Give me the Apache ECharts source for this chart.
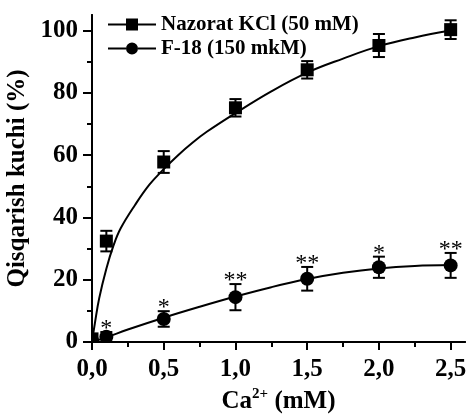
<!DOCTYPE html>
<html>
<head>
<meta charset="utf-8">
<script src="https://cdn.jsdelivr.net/npm/echarts@6/dist/echarts.min.js"></script>
<style>
html,body{margin:0;padding:0;background:#fff;}
#chart{width:469px;height:414px;}
</style>
</head>
<body>
<div id="chart"></div>
<script>
// ---- data ----
const xValues = [0, 0.1, 0.5, 1.0, 1.5, 2.0, 2.5];
const nazorat = [1, 32.4, 57.8, 75.2, 87.4, 95.2, 100.3];
const nazoratErr = [0, 3.3, 3.5, 2.8, 2.8, 3.7, 3.0];
const f18 = [0.5, 1.7, 7.4, 14.4, 20.3, 24.0, 24.6];
const f18Err = [0, 1.5, 2.5, 4.2, 3.8, 3.4, 4.0];
const f18Sig = ['', '*', '*', '**', '**', '*', '**'];

const nazCurveX = [0, 0.02, 0.05, 0.1, 0.15, 0.2, 0.3, 0.4, 0.5, 0.6, 0.7, 0.8, 1.0, 1.25, 1.5, 1.75, 2.0, 2.25, 2.5];
const nazCurveY = [0, 6, 14, 23.5, 31, 36.5, 44, 50.5, 55.5, 60, 64, 67.5, 73.5, 80.5, 86.5, 91, 95, 97.8, 100];
const f18CurveX = [0, 0.1, 0.25, 0.5, 0.75, 1.0, 1.25, 1.5, 1.75, 2.0, 2.25, 2.5];
const f18CurveY = [0, 1.5, 4, 7.8, 11.3, 14.6, 17.6, 20.2, 22.2, 23.6, 24.4, 24.7];

const xTickValues = [0, 0.5, 1.0, 1.5, 2.0, 2.5];
const xTickLabels = ['0,0', '0,5', '1,0', '1,5', '2,0', '2,5'];
const xMinorTicks = [0.25, 0.75, 1.25, 1.75, 2.25];
const yTickValues = [0, 20, 40, 60, 80, 100];
const yTickLabels = ['0', '20', '40', '60', '80', '100'];
const yMinorTicks = [10, 30, 50, 70, 90];

const nameNaz = 'Nazorat KCl (50 mM)';
const nameF18 = 'F-18 (150 mkM)';

// ---- chart ----
const FONT = '"Liberation Serif", "Times New Roman", serif';
const chart = echarts.init(document.getElementById('chart'));

function errSeries(name, vals, errs, shape, sigs) {
  return {
    type: 'custom',
    name: name,
    clip: true,
    z: 5,
    itemStyle: {color: '#000'},
    data: xValues.map((x, i) => [x, vals[i], errs[i]]),
    renderItem: function (params, api) {
      const x = api.value(0), y = api.value(1), e = api.value(2);
      const i = params.dataIndex;
      const c = api.coord([x, y]);
      const t = api.coord([x, y + e]);
      const b = api.coord([x, y - e]);
      const children = [];
      const ls = {stroke: '#000', lineWidth: 2};
      if (e > 0) {
        children.push({type: 'line', shape: {x1: c[0], y1: t[1], x2: c[0], y2: b[1]}, style: ls});
        children.push({type: 'line', shape: {x1: c[0] - 6, y1: t[1], x2: c[0] + 6, y2: t[1]}, style: ls});
        children.push({type: 'line', shape: {x1: c[0] - 6, y1: b[1], x2: c[0] + 6, y2: b[1]}, style: ls});
      }
      if (shape === 'rect') {
        children.push({type: 'rect', shape: {x: c[0] - 6.5, y: c[1] - 6.5, width: 13, height: 13}, style: {fill: '#000'}});
      } else {
        children.push({type: 'circle', shape: {cx: c[0], cy: c[1], r: 7}, style: {fill: '#000'}});
      }
      if (sigs && sigs[i]) {
        children.push({type: 'text', style: {text: sigs[i], x: c[0], y: t[1] + 9, align: 'center', verticalAlign: 'bottom',
          font: '24px ' + FONT, fill: '#000'}});
      }
      return {type: 'group', children: children};
    }
  };
}

const axisLineStyle = {color: '#000', width: 2};

const option = {
  animation: false,
  backgroundColor: '#fff',
  grid: {left: 92, right: 4, top: 15, bottom: 72, containLabel: false, outerBoundsMode: 'none'},
  legend: {
    orient: 'vertical', left: 103, top: 9, itemGap: 3, itemWidth: 48, itemHeight: 12,
    textStyle: {fontFamily: FONT, fontWeight: 'bold', fontSize: 21, color: '#000'},
    data: [
      {name: nameNaz, icon: 'path://M0,5H18V7H0Z M18,0H30V12H18Z M30,5H48V7H30Z'},
      {name: nameF18, icon: 'path://M0,5H18V7H0Z M18,6A6,6 0 1,1 30,6A6,6 0 1,1 18,6Z M30,5H48V7H30Z'}
    ]
  },
  xAxis: [{
    type: 'value', min: 0, max: 2.6, position: 'bottom',
    axisLine: {show: true, lineStyle: axisLineStyle},
    axisTick: {show: true, customValues: xTickValues, length: 8, lineStyle: axisLineStyle},
    axisLabel: {customValues: xTickValues, margin: 15, color: '#000', fontFamily: FONT, fontWeight: 'bold', fontSize: 25,
      formatter: v => xTickLabels[xTickValues.findIndex(t => Math.abs(t - v) < 1e-9)] ?? ''},
    splitLine: {show: false},
    name: '{m|Ca}{s|2+}{m| (mM)}', nameLocation: 'middle', nameGap: 45,
    nameTextStyle: {fontFamily: FONT, fontWeight: 'bold', fontSize: 25, color: '#000',
      rich: {
        m: {fontFamily: FONT, fontWeight: 'bold', fontSize: 25, color: '#000', verticalAlign: 'bottom'},
        s: {fontFamily: FONT, fontWeight: 'bold', fontSize: 15, color: '#000', verticalAlign: 'bottom', padding: [0, 0, 12, 0]}
      }}
  }, {
    type: 'value', min: 0, max: 2.6, position: 'bottom',
    axisLine: {show: true, lineStyle: axisLineStyle},
    axisTick: {show: true, customValues: xMinorTicks, length: 5, lineStyle: axisLineStyle},
    axisLabel: {show: false},
    splitLine: {show: false}
  }],
  yAxis: [{
    type: 'value', min: 0, max: 105, position: 'left',
    axisLine: {show: true, lineStyle: axisLineStyle},
    axisTick: {show: true, customValues: yTickValues, length: 9, lineStyle: axisLineStyle},
    axisLabel: {customValues: yTickValues, margin: 14, color: '#000', fontFamily: FONT, fontWeight: 'bold', fontSize: 25,
      formatter: v => yTickLabels[yTickValues.indexOf(v)] ?? ''},
    splitLine: {show: false},
    name: 'Qisqarish kuchi (%)', nameLocation: 'middle', nameGap: 54, nameRotate: 90,
    nameTextStyle: {fontFamily: FONT, fontWeight: 'bold', fontSize: 25, color: '#000'}
  }, {
    type: 'value', min: 0, max: 105, position: 'left',
    axisLine: {show: true, lineStyle: axisLineStyle},
    axisTick: {show: true, customValues: yMinorTicks, length: 5, lineStyle: axisLineStyle},
    axisLabel: {show: false},
    splitLine: {show: false}
  }],
  series: [
    {type: 'line', name: 'naz-fit', data: nazCurveX.map((x, i) => [x, nazCurveY[i]]), smooth: 0.4,
      showSymbol: false, lineStyle: {color: '#000', width: 2}, z: 2, silent: true},
    {type: 'line', name: 'f18-fit', data: f18CurveX.map((x, i) => [x, f18CurveY[i]]), smooth: 0.4,
      showSymbol: false, lineStyle: {color: '#000', width: 2}, z: 2, silent: true},
    errSeries(nameNaz, nazorat, nazoratErr, 'rect', null),
    errSeries(nameF18, f18, f18Err, 'circle', f18Sig)
  ]
};
chart.setOption(option);
</script>
</body>
</html>
